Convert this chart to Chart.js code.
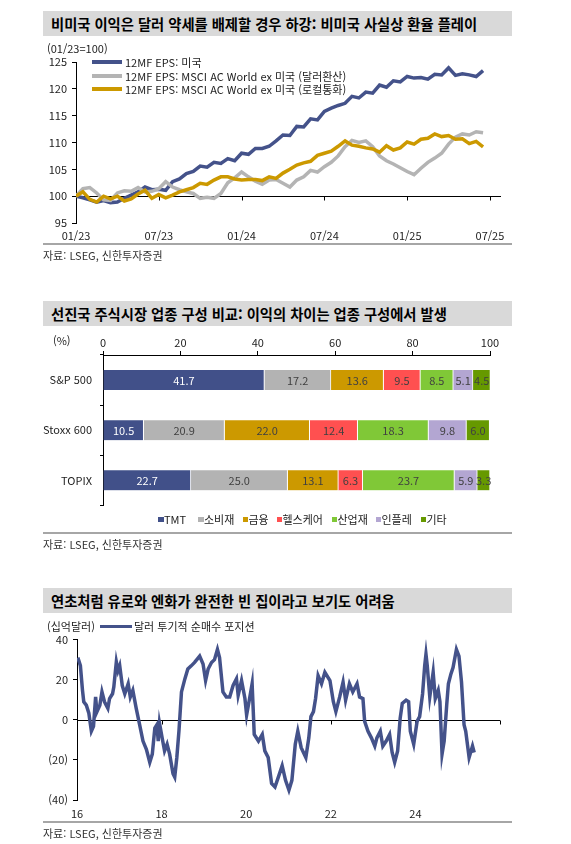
<!DOCTYPE html>
<html lang="ko">
<head>
<meta charset="utf-8">
<script src="https://cdn.jsdelivr.net/npm/chart.js@4.4.1/dist/chart.umd.min.js"></script>
<style>
  html, body { margin:0; padding:0; background:#fff; }
  body { width:571px; height:844px; position:relative; overflow:hidden; font-family:'Noto Sans CJK KR', sans-serif; color:#222; }
  canvas { position:absolute; left:0; }
  .title { position:absolute; left:43px; width:469px; height:25px; background:#d9d9d9; font-weight:bold; font-size:14.3px; line-height:25px; padding-left:8px; box-sizing:border-box; color:#000; white-space:nowrap; }
  .rule { position:absolute; left:43px; width:469px; height:1.5px; background:#a6a6a6; }
  .txt { position:absolute; font-size:11px; line-height:14px; white-space:nowrap; color:#222; }
  .swatch { position:absolute; }
</style>
</head>
<body>

<div class="title" style="top:11px">비미국 이익은 달러 약세를 배제할 경우 하강: 비미국 사실상 환율 플레이</div>
<canvas id="epsChart" width="571" height="200" style="top:50px"></canvas>
<div class="txt" style="left:47px;top:41px">(01/23=100)</div>
<div class="swatch" style="left:92px;top:60px;width:30px;height:3.5px;background:#44528a"></div>
<div class="txt" style="left:125px;top:55px">12MF EPS: 미국</div>
<div class="swatch" style="left:92px;top:74px;width:30px;height:3.5px;background:#b4b4b4"></div>
<div class="txt" style="left:125px;top:68.5px">12MF EPS: MSCI AC World ex 미국 (달러환산)</div>
<div class="swatch" style="left:92px;top:87px;width:30px;height:3.5px;background:#cc9900"></div>
<div class="txt" style="left:125px;top:82px">12MF EPS: MSCI AC World ex 미국 (로컬통화)</div>
<div class="rule" style="top:243px"></div>
<div class="txt" style="left:43px;top:248px;color:#333">자료: LSEG, 신한투자증권</div>

<div class="title" style="top:301px">선진국 주식시장 업종 구성 비교: 이익의 차이는 업종 구성에서 발생</div>
<canvas id="sectorChart" width="571" height="190" style="top:330px"></canvas>
<div class="txt" style="left:53px;top:333px">(%)</div>
<div id="sectorLegend"></div>
<div class="rule" style="top:532px"></div>
<div class="txt" style="left:43px;top:537px;color:#333">자료: LSEG, 신한투자증권</div>

<div class="title" style="top:588px">연초처럼 유로와 엔화가 완전한 빈 집이라고 보기도 어려움</div>
<canvas id="dollarChart" width="571" height="195" style="top:628px"></canvas>
<div class="txt" style="left:47px;top:619px">(십억달러)</div>
<div class="swatch" style="left:100px;top:624.5px;width:32px;height:3.5px;background:#44528a"></div>
<div class="txt" style="left:134px;top:619px">달러 투기적 순매수 포지션</div>
<div class="rule" style="top:821px;height:2px"></div>
<div class="txt" style="left:43px;top:826px;color:#333">자료: LSEG, 신한투자증권</div>

<script>
// ---- chart 1 data (months since 01/23, index 01/23 = 100)
const epsMonths = [0, 0.5, 1, 1.5, 2, 2.5, 3, 3.5, 4, 4.5, 5, 5.5, 6, 6.5, 7, 7.5, 8, 8.5, 9, 9.5,
  10, 10.5, 11, 11.5, 12, 12.5, 13, 13.5, 14, 14.5, 15, 15.5, 16, 16.5, 17, 17.5, 18, 18.5, 19, 19.5,
  20, 20.5, 21, 21.5, 22, 22.5, 23, 23.5, 24, 24.5, 25, 25.5, 26, 26.5, 27, 27.5, 28, 28.5, 29, 29.5];
const usEps = [100, 99.7, 99.3, 98.9, 99.2, 98.8, 98.9, 99.6, 100.2, 100.8,
  101.7, 101.2, 101.3, 101.1, 102.7, 103.2, 104.2, 104.6, 105.6, 105.4,
  106.3, 106.1, 107.0, 106.6, 108.0, 107.8, 108.9, 108.9, 109.3, 110.3,
  111.4, 111.3, 113.0, 112.9, 114.4, 114.2, 115.8, 116.4, 116.9, 117.3,
  118.6, 118.3, 119.4, 119.2, 120.7, 120.3, 121.5, 121.3, 122.3, 122.0,
  122.1, 121.8, 122.7, 122.6, 123.9, 122.5, 122.8, 122.6, 122.3, 123.4];
const exUsEpsUsd = [100, 101.4, 101.6, 100.6, 99.3, 99.2, 100.6, 101.0, 100.9, 101.6,
  100.8, 100.9, 101.4, 102.7, 101.7, 101.2, 100.8, 100.5, 99.6, 99.8,
  99.6, 100.5, 102.5, 103.4, 104.5, 103.6, 102.8, 102.2, 103.0, 103.1,
  102.4, 101.7, 103.0, 103.6, 104.8, 104.5, 105.5, 106.3, 107.5, 109.2,
  110.4, 110.0, 110.3, 109.2, 107.5, 106.6, 106.0, 105.3, 104.6, 104.0,
  105.2, 106.3, 107.1, 108.0, 109.7, 111.0, 111.6, 111.4, 112.0, 111.8];
const exUsEpsLocal = [100, 100.8, 99.4, 98.9, 100.0, 99.5, 100.0, 99.1, 99.5, 100.4,
  101.1, 99.6, 100.3, 99.7, 100.2, 100.8, 101.2, 101.6, 102.4, 102.2,
  103.0, 103.6, 103.6, 103.2, 103.0, 103.1, 103.1, 102.9, 103.6, 103.3,
  104.3, 105.0, 105.8, 106.2, 106.5, 107.6, 108.0, 108.4, 109.3, 110.3,
  109.5, 109.3, 109.0, 108.8, 108.2, 109.4, 108.6, 109.0, 110.1, 109.7,
  110.6, 110.8, 111.6, 111.1, 111.3, 110.6, 110.7, 109.8, 110.2, 109.2];
const epsTickMonths = [0, 6, 12, 18, 24, 30];
const epsTickLabels = ['01/23', '07/23', '01/24', '07/24', '01/25', '07/25'];

// ---- chart 2 data (%)
const indexNames = ['S&P 500', 'Stoxx 600', 'TOPIX'];
const sectorNames = ['TMT', '소비재', '금융', '헬스케어', '산업재', '인플레', '기타'];
const sp500Share = [41.7, 17.2, 13.6, 9.5, 8.5, 5.1, 4.5];
const stoxx600Share = [10.5, 20.9, 22.0, 12.4, 18.3, 9.8, 6.0];
const topixShare = [22.7, 25.0, 13.1, 6.3, 23.7, 5.9, 3.3];
const sectorColors = ['#415089', '#b3b3b3', '#cc9900', '#ff5050', '#80c837', '#b3a6d2', '#669900'];

// ---- chart 3 data (year, $bn)
const posYears = [16.02, 16.08, 16.13, 16.16, 16.22, 16.28, 16.34, 16.39, 16.44, 16.47,
  16.54, 16.59, 16.65, 16.73, 16.77, 16.84, 16.87, 16.93, 16.97, 17.01,
  17.07, 17.13, 17.21, 17.26, 17.32, 17.40, 17.48, 17.56, 17.64, 17.72,
  17.78, 17.84, 17.89, 17.92, 17.95, 18.02, 18.07, 18.13, 18.19, 18.27,
  18.31, 18.36, 18.41, 18.47, 18.55, 18.62, 18.70, 18.78, 18.90, 18.98,
  19.04, 19.10, 19.18, 19.25, 19.32, 19.37, 19.45, 19.53, 19.61, 19.69,
  19.77, 19.81, 19.89, 19.97, 20.01, 20.08, 20.14, 20.19, 20.29, 20.38,
  20.44, 20.52, 20.60, 20.68, 20.76, 20.85, 20.93, 21.01, 21.08, 21.16,
  21.22, 21.30, 21.41, 21.48, 21.53, 21.59, 21.64, 21.70, 21.78, 21.86,
  21.98, 22.06, 22.12, 22.21, 22.29, 22.35, 22.44, 22.52, 22.62, 22.68,
  22.76, 22.80, 22.88, 22.96, 23.04, 23.09, 23.17, 23.23, 23.31, 23.39,
  23.45, 23.51, 23.58, 23.64, 23.69, 23.78, 23.84, 23.88, 23.96, 24.04,
  24.10, 24.17, 24.22, 24.25, 24.28, 24.34, 24.42, 24.47, 24.54, 24.58,
  24.63, 24.68, 24.74, 24.78, 24.84, 24.89, 24.97, 25.03, 25.09, 25.15,
  25.19, 25.27, 25.35, 25.39];
const posValues = [31, 27, 14.7, 9, 7.3, 3.3, -5.7, -3.3, 11.4, 4,
  7.3, 13.9, 9, 5.7, 10.6, 13, 16.3, 28.9, 24.5, 27,
  17.1, 13, 18, 11.4, 14.7, 5.7, -2.4, -10.6, -14.7, -21.2,
  -17.1, -4.1, -2.4, -10.6, -1.6, -9.8, -15.5, -12.2, -17.1, -26.9,
  -28.6, -18.8, -5.7, 13.9, 20.4, 25.3, 26.9, 28.6, 31.8, 27.8,
  19.6, 25.3, 28.6, 30, 35.1, 31, 13.9, 11.4, 11.4, 17.1,
  20.4, 12.2, 19.6, 10.6, 2.4, 10.6, 18, -7.3, -10.6, -7.3,
  -15.5, -18.8, -31.8, -33.5, -28.6, -22.9, -30.2, -35.1, -30.2, -12.2,
  -5.7, -13.9, -18.8, -9, 1.6, 4.1, 10.6, 22, 18, 23.7,
  19.6, 9, 4.1, 11.4, 18.8, 9.8, 18, 13.9, 18, 11.4,
  10.6, -0.8, -5.7, -9, -13.1, -9, -5.7, -13.1, -10.6, -7.3,
  -16.3, -21.2, -15.5, 0.8, 8.2, 9.8, 9, -5.7, -12.2, -0.8,
  1.6, 13, 27, 32.7, 27, 11.4, 23.7, 10.6, 14.7, 9,
  -17.1, -10.6, 7.3, 18, 22.9, 26.1, 35.1, 31.8, 18.8, -2.4,
  -5.7, -18.8, -13.1, -16.3];
const posTickYears = [16, 18, 20, 22, 24, 26];
const posTickLabels = ['16', '18', '20', '22', '24', ''];

const tickFont = { family: "'Noto Sans CJK KR', sans-serif", size: 11 };
const tickColor = '#222';

// black axis line across the plot at a given value, with tick marks down
const baselinePlugin = {
  id: 'baseline',
  beforeDatasetsDraw(chart, args, opts) {
    const { ctx, chartArea, scales } = chart;
    const py = Math.round(scales.y.getPixelForValue(opts.value)) + 0.5;
    ctx.save();
    ctx.strokeStyle = '#000';
    ctx.lineWidth = 1;
    ctx.beginPath();
    ctx.moveTo(chartArea.left, py);
    ctx.lineTo(chartArea.right, py);
    scales.x.ticks.forEach(t => {
      const px = Math.round(scales.x.getPixelForValue(t.value)) + 0.5;
      ctx.moveTo(px, py);
      ctx.lineTo(px, py + 4);
    });
    ctx.stroke();
    ctx.restore();
  }
};

// value labels in the middle of each stacked segment
const barLabelPlugin = {
  id: 'barLabels',
  afterDatasetsDraw(chart) {
    const ctx = chart.ctx;
    ctx.save();
    ctx.font = "11px 'Noto Sans CJK KR', sans-serif";
    ctx.textAlign = 'center';
    ctx.textBaseline = 'middle';
    chart.data.datasets.forEach((ds, i) => {
      chart.getDatasetMeta(i).data.forEach((bar, j) => {
        const p = bar.getProps(['x', 'y', 'base'], true);
        ctx.fillStyle = i === 0 ? '#fff' : '#404040';
        ctx.fillText(ds.data[j].toFixed(1), (p.x + p.base) / 2, p.y + 0.5);
      });
    });
    ctx.restore();
  }
};

function toPoints(xs, ys) {
  return xs.map((x, i) => ({ x: x, y: ys[i] }));
}

// Chart 1: EPS lines
new Chart(document.getElementById('epsChart'), {
  type: 'line',
  data: {
    datasets: [
      { label: '12MF EPS: 미국', data: toPoints(epsMonths, usEps), borderColor: '#44528a', borderWidth: 3.5, pointRadius: 0, order: 3 },
      { label: '12MF EPS: MSCI AC World ex 미국 (달러환산)', data: toPoints(epsMonths, exUsEpsUsd), borderColor: '#b4b4b4', borderWidth: 3.5, pointRadius: 0, order: 2 },
      { label: '12MF EPS: MSCI AC World ex 미국 (로컬통화)', data: toPoints(epsMonths, exUsEpsLocal), borderColor: '#cc9900', borderWidth: 3.5, pointRadius: 0, order: 1 }
    ]
  },
  options: {
    responsive: false,
    animation: false,
    layout: { padding: { top: 12, right: 70, left: 0, bottom: 0 } },
    plugins: { legend: { display: false }, tooltip: { enabled: false }, baseline: { value: 100 } },
    scales: {
      x: {
        type: 'linear', min: 0, max: 30.8,
        afterBuildTicks: s => { s.ticks = epsTickMonths.map(v => ({ value: v })); },
        ticks: { font: tickFont, color: tickColor, padding: 6, maxRotation: 0,
          callback: v => epsTickLabels[epsTickMonths.indexOf(v)] || '' },
        grid: { display: false, drawTicks: false },
        border: { display: false },
        afterFit: s => { s.height = 27; }
      },
      y: {
        min: 95, max: 125,
        ticks: { stepSize: 5, font: tickFont, color: tickColor, padding: 5 },
        grid: { drawOnChartArea: false, tickLength: 4, color: '#000' },
        border: { color: '#000' },
        afterFit: s => { s.width = 76; }
      }
    }
  },
  plugins: [baselinePlugin]
});

// Chart 2: sector composition
const shareByIndex = [sp500Share, stoxx600Share, topixShare];
new Chart(document.getElementById('sectorChart'), {
  type: 'bar',
  data: {
    labels: indexNames,
    datasets: sectorNames.map((name, k) => ({
      label: name,
      data: shareByIndex.map(arr => arr[k]),
      backgroundColor: sectorColors[k],
      borderColor: '#ffffff',
      borderWidth: { top: 0, bottom: 0, left: 0, right: 1 },
      borderSkipped: false,
      barThickness: 20
    }))
  },
  options: {
    indexAxis: 'y',
    responsive: false,
    animation: false,
    layout: { padding: { top: 0, right: 81, left: 0, bottom: 10 } },
    plugins: { legend: { display: false }, tooltip: { enabled: false } },
    scales: {
      x: {
        position: 'top', stacked: true, min: 0, max: 100,
        ticks: { stepSize: 20, font: tickFont, color: tickColor, padding: 2 },
        grid: { drawOnChartArea: false, tickLength: 4, color: '#000' },
        border: { color: '#000' },
        afterFit: s => { s.height = 25; }
      },
      y: {
        stacked: true,
        ticks: { font: tickFont, color: tickColor, padding: 8 },
        grid: { offset: true, drawOnChartArea: false, tickLength: 3, color: '#000' },
        border: { color: '#000' },
        afterFit: s => { s.width = 103; }
      }
    }
  },
  plugins: [barLabelPlugin]
});

// legend for chart 2
const legendLefts = [158, 198, 242.5, 276.5, 331.5, 375.5, 420.5];
const legendBox = document.getElementById('sectorLegend');
sectorNames.forEach((name, k) => {
  const sq = document.createElement('div');
  sq.className = 'swatch';
  sq.style.cssText = 'left:' + legendLefts[k] + 'px;top:516.5px;width:5.5px;height:5.5px;background:' + sectorColors[k];
  legendBox.appendChild(sq);
  const tx = document.createElement('div');
  tx.className = 'txt';
  tx.style.cssText = 'left:' + (legendLefts[k] + 6) + 'px;top:512px';
  tx.textContent = name;
  legendBox.appendChild(tx);
});

// Chart 3: dollar net speculative position
new Chart(document.getElementById('dollarChart'), {
  type: 'line',
  data: {
    datasets: [
      { label: '달러 투기적 순매수 포지션', data: toPoints(posYears, posValues), borderColor: '#44528a', borderWidth: 3.5, pointRadius: 0 }
    ]
  },
  options: {
    responsive: false,
    animation: false,
    layout: { padding: { top: 9, right: 71, left: 0, bottom: 0 } },
    plugins: { legend: { display: false }, tooltip: { enabled: false }, baseline: { value: 0 } },
    scales: {
      x: {
        type: 'linear', min: 16, max: 26,
        afterBuildTicks: s => { s.ticks = posTickYears.map(v => ({ value: v })); },
        ticks: { font: tickFont, color: tickColor, padding: 7, maxRotation: 0,
          callback: v => posTickLabels[posTickYears.indexOf(v)] || '' },
        grid: { display: false, drawTicks: false },
        border: { display: false },
        afterFit: s => { s.height = 23; }
      },
      y: {
        min: -40, max: 40,
        ticks: { stepSize: 20, font: tickFont, color: tickColor, padding: 5,
          callback: v => v < 0 ? '(' + (-v) + ')' : String(v) },
        grid: { drawOnChartArea: false, tickLength: 4, color: '#000' },
        border: { color: '#000' },
        afterFit: s => { s.width = 77; }
      }
    }
  },
  plugins: [baselinePlugin]
});
</script>
</body>
</html>
